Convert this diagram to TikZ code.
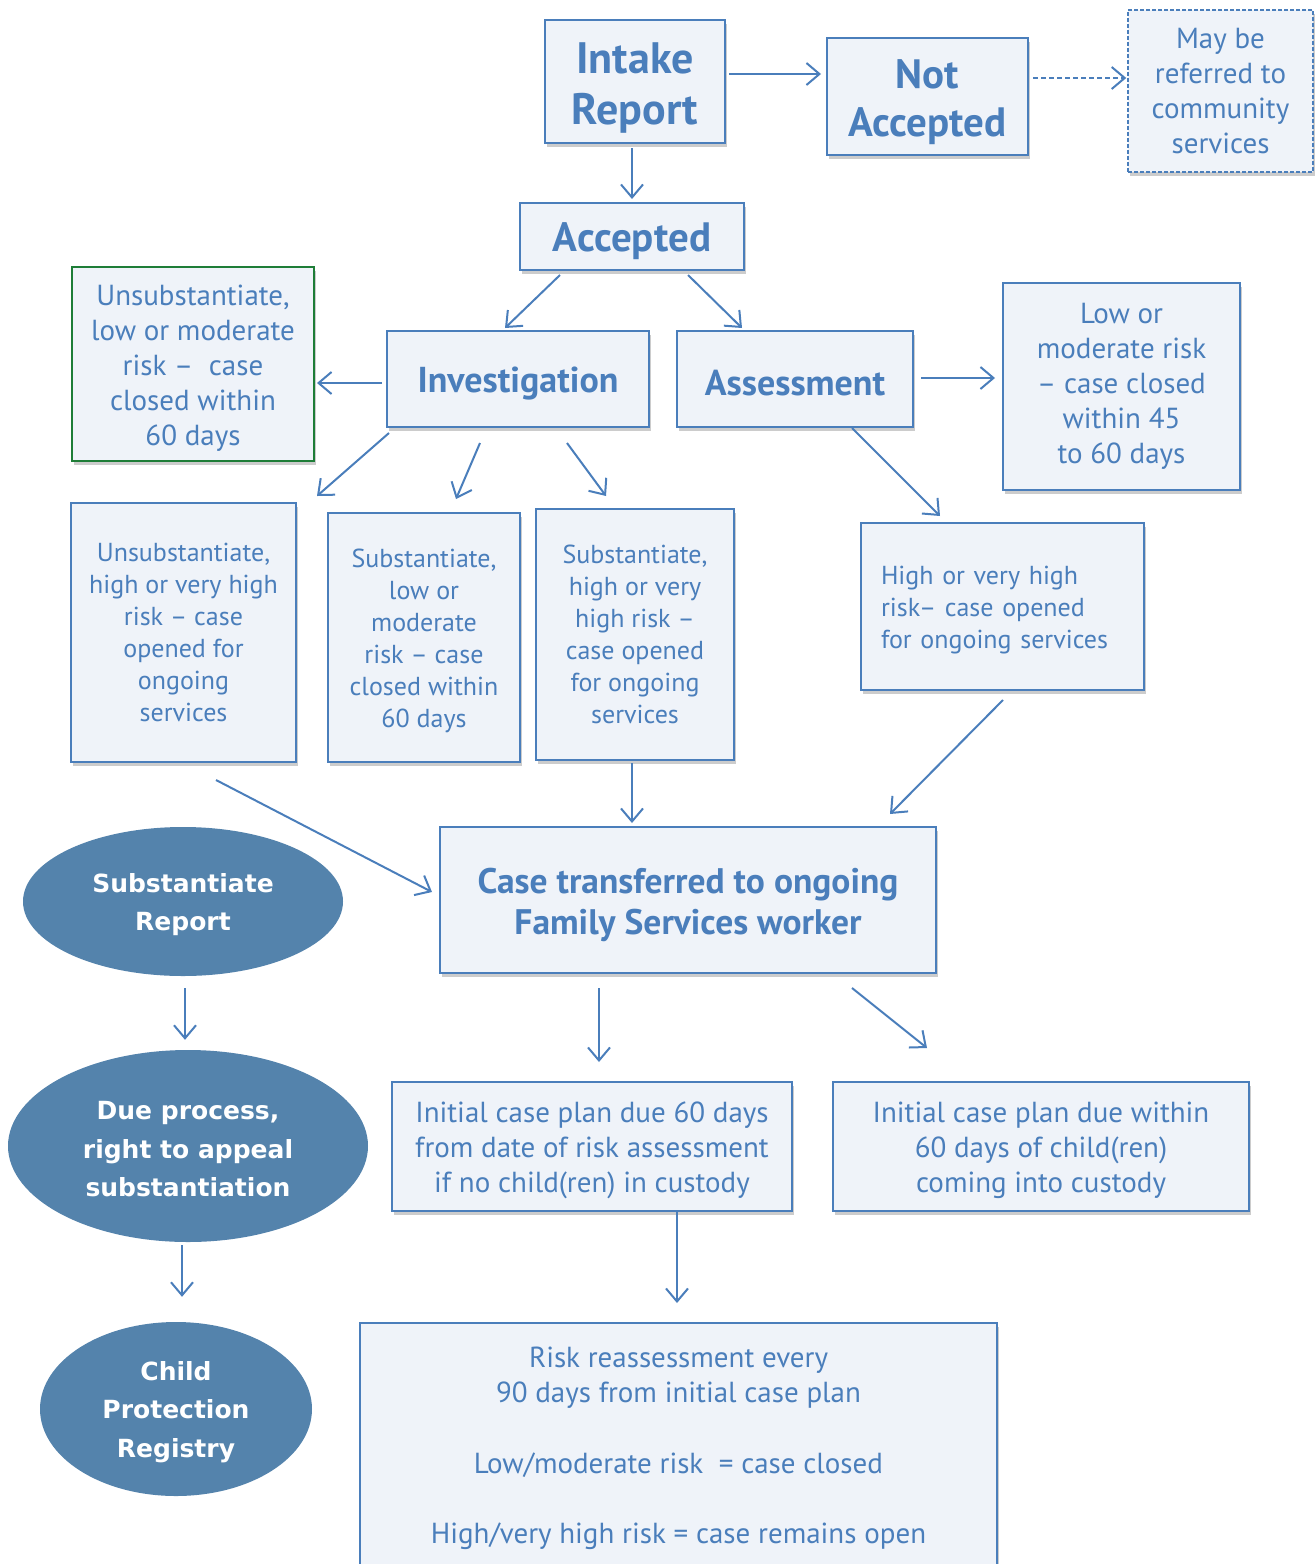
\documentclass[tikz,border=0pt]{standalone}
\usepackage{fontspec}
\setmainfont{PT Sans}
\newfontfamily\ovalfont{DejaVu Sans}
\usepackage{tikz}
\usetikzlibrary{calc,shapes.geometric,arrows.meta,shadows}
\definecolor{flowblue}{RGB}{74,126,187}
\definecolor{flowfill}{RGB}{239,243,249}
\definecolor{ovalblue}{RGB}{84,131,172}
\definecolor{flowgreen}{RGB}{30,125,55}
\def\bodytext{\fontsize{29}{35}\selectfont}
\def\smalltext{\fontsize{26}{32}\selectfont}
\def\topstrut{\rule{0pt}{1em}}
\tikzset{
	flowbox/.style={draw=flowblue, line width=2pt, fill=flowfill, text=flowblue, align=center, inner sep=0pt,
		execute at begin node={\rule{0pt}{0.95em}},
		drop shadow={shadow xshift=2pt, shadow yshift=-4pt, opacity=0.2, fill=black}},
	oval/.style={ellipse, fill=ovalblue, text=white, align=center, inner sep=0pt,
		font=\ovalfont\bfseries\fontsize{25}{38.5}\selectfont},
	arr/.style={draw=flowblue, line width=2pt, -{Straight Barb[length=13pt, width=22pt]}},
}

\begin{document}
\begin{tikzpicture}[x=1pt, y=-1pt]
			%%%%% START %%%%%
			\useasboundingbox (0,0) rectangle (1315,1564);
			\clip (0,0) rectangle (1315,1564);
			
			%%%%% top row %%%%%
			\node[flowbox, minimum width=180pt, minimum height=123pt, font=\bfseries\fontsize{44}{51}\selectfont] (intake) at (635,81.5) {\topstrut Intake\\Report};
			\node[flowbox, minimum width=201pt, minimum height=117pt, font=\bfseries\fontsize{41}{48}\selectfont] (notacc) at (927.5,96.5) {\topstrut Not\\Accepted};
			\node[flowbox, dash pattern=on 4pt off 2pt, line width=1.5pt, minimum width=185pt, minimum height=162pt, font=\bodytext] (refer) at (1220.5,91) {May be\\referred to\\community\\services};
			\node[flowbox, minimum width=224pt, minimum height=67pt, font=\bfseries\fontsize{41}{48}\selectfont] (acc) at (632,236.5) {Accepted};
			
			%%%%% second row %%%%%
			\node[flowbox, minimum width=262pt, minimum height=96pt, font=\bfseries\fontsize{36}{42}\selectfont] (inv) at (518,379) {Investigation};
			\node[flowbox, minimum width=236pt, minimum height=96pt, font=\bfseries\fontsize{36}{42}\selectfont] (asmt) at (795,379) {Assessment};
			\node[flowbox, draw=flowgreen, minimum width=242pt, minimum height=194pt, font=\bodytext] (unsublow) at (193,364) {\topstrut Unsubstantiate,\\low or moderate\\risk –~ case\\closed within\\60 days};
			\node[flowbox, minimum width=237pt, minimum height=207pt, font=\bodytext] (lowmod) at (1121.5,386.5) {Low or\\moderate risk\\– case closed\\within 45\\to 60 days};
			
			%%%%% third row %%%%%
			\node[flowbox, minimum width=225pt, minimum height=259pt, font=\smalltext] (unsubhigh) at (183.5,632.5) {Unsubstantiate,\\high or very high\\risk – case\\opened for\\ongoing\\services};
			\node[flowbox, minimum width=192pt, minimum height=249pt, font=\smalltext] (sublow) at (424,637.5) {\topstrut Substantiate,\\low or\\moderate\\risk – case\\closed within\\60 days};
			\node[flowbox, minimum width=198pt, minimum height=251pt, font=\smalltext] (subhigh) at (635,634.5) {Substantiate,\\high or very\\high risk –\\case opened\\for ongoing\\services};
			\node[flowbox, minimum width=283pt, minimum height=167pt, text width=243pt, align=left, font=\smalltext] (highrisk) at (1002.5,606.5) {High or very high\\risk– case opened\\for ongoing services};
			
			%%%%% lower part %%%%%
			\node[flowbox, minimum width=496pt, minimum height=146pt, font=\bfseries\fontsize{35.5}{41}\selectfont] (ongoing) at (688,900) {\topstrut Case transferred to ongoing\\Family Services worker};
			\node[flowbox, minimum width=400pt, minimum height=129pt, font=\bodytext] (plan60) at (592,1146.5) {\topstrut Initial case plan due 60 days\\from date of risk assessment\\if no child(ren) in custody};
			\node[flowbox, minimum width=416pt, minimum height=129pt, font=\bodytext] (plancust) at (1041,1146.5) {\topstrut Initial case plan due within\\60 days of child(ren)\\coming into custody};
			\node[flowbox, minimum width=637pt, minimum height=272pt, anchor=north, font=\bodytext] (reassess) at (678.5,1322) {Risk reassessment every\\90 days from initial case plan\\[36pt]Low/moderate risk~ = case closed\\[35pt]High/very high risk = case remains open\\[-7pt]\mbox{}};
			
			%%%%% ovals %%%%%
			\node[oval, minimum width=320pt, minimum height=149pt] (subrep) at (183,901.5) {\topstrut Substantiate\\Report};
			\node[oval, minimum width=360pt, minimum height=192pt] (dueproc) at (188,1146) {\topstrut Due process,\\right to appeal\\substantiation};
			\node[oval, minimum width=272pt, minimum height=174pt] (registry) at (176,1409) {\topstrut Child\\Protection\\Registry};
			
			%%%%% arrows %%%%%
			\draw[arr, shorten <=3pt, shorten >=5pt] ([yshift=7.5pt]intake.east) -- ([yshift=7.5pt]intake.east -| notacc.west);
			\draw[arr, dash pattern=on 5pt off 3pt, shorten <=4pt, shorten >=1pt] ([yshift=18.5pt]notacc.east) -- ([yshift=18.5pt]notacc.east -| refer.west);
			\draw[arr] ($(acc.north|-intake.south)+(0,4)$) -- ($(acc.north)+(0,-3)$);
			\draw[arr] ($(acc.south west)+(41,4)$) -- ($(inv.north west)+(119,-2)$);
			\draw[arr] ($(acc.south east)+(-57,4)$) -- ($(asmt.north west)+(66,-2)$);
			\draw[arr] ($(inv.west)+(-4,4)$) -- ($(unsublow.east|-inv.west)+(2,4)$);
			\draw[arr] ($(asmt.east)+(7,-1)$) -- ($(lowmod.west|-asmt.east)+(-7,-1)$);
			\draw[arr] ($(inv.south west)+(3,5)$) -- ($(unsubhigh.north east)+(20,-6)$);
			\draw[arr] ($(inv.south west)+(94,15)$) -- ($(sublow.north west)+(129,-13)$);
			\draw[arr] ($(inv.south west)+(181,15)$) -- ($(subhigh.north west)+(71,-12)$);
			\draw[arr] ($(asmt.south west)+(176,0)$) -- ($(highrisk.north west)+(80,-6)$);
			\draw[arr] ($(subhigh.south)+(-3,2)$) -- ($(subhigh.south|-ongoing.north)+(-3,-3)$);
			\draw[arr] ($(highrisk.south)+(0.5,9)$) -- ($(ongoing.north east)+(-47,-12)$);
			\draw[arr] ($(unsubhigh.south)+(32.5,17)$) -- ($(ongoing.west)+(-7,-8)$);
			\draw[arr] ($(ongoing.south west)+(160,14)$) -- ($(plan60.north west)+(208,-19)$);
			\draw[arr] ($(ongoing.south west)+(413,14)$) -- ($(plancust.north west)+(95,-33)$);
			\draw[arr] ($(plan60.south)+(85,0)$) -- ($(reassess.north)+(-1.5,-19)$);
			\draw[arr] ($(subrep.south)+(2,12)$) -- ($(dueproc.north)+(-3,-10)$);
			\draw[arr] ($(dueproc.south)+(-6,3)$) -- ($(registry.north)+(6,-25)$);
			
			%%%%% END %%%%%
\end{tikzpicture}
\end{document}
